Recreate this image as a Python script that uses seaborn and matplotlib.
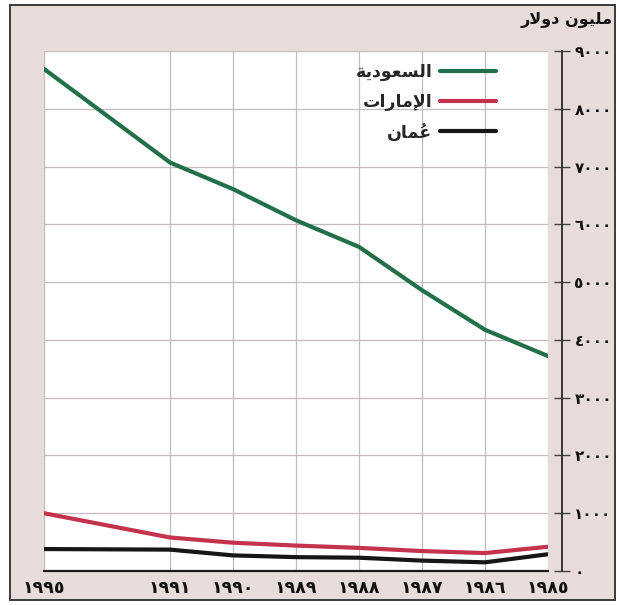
import matplotlib
matplotlib.use("Agg")
import matplotlib.pyplot as plt
import seaborn as sns
import pandas as pd
from matplotlib.patches import Rectangle

# ---------------- data ----------------
years = [1995, 1991, 1990, 1989, 1988, 1987, 1986, 1985]
year_labels = ["١٩٩٥", "١٩٩١", "١٩٩٠", "١٩٨٩", "١٩٨٨", "١٩٨٧", "١٩٨٦", "١٩٨٥"]
saudi = [8690, 7070, 6610, 6070, 5610, 4860, 4175, 3720]
uae = [1000, 580, 490, 440, 400, 345, 310, 420]
oman = [380, 370, 270, 240, 230, 180, 150, 290]
series_names = ["السعودية", "الإمارات", "عُمان"]
y_ticks = [0, 1000, 2000, 3000, 4000, 5000, 6000, 7000, 8000, 9000]
y_tick_labels = ["٠", "١٠٠٠", "٢٠٠٠", "٣٠٠٠", "٤٠٠٠", "٥٠٠٠", "٦٠٠٠", "٧٠٠٠", "٨٠٠٠", "٩٠٠٠"]
unit_label = "مليون دولار"

# slot of each year on the (broken) horizontal axis: 1995 sits two slots left of 1991
year_slot = {1995: 8, 1991: 6, 1990: 5, 1989: 4, 1988: 3, 1987: 2, 1986: 1, 1985: 0}

# ---------------- minimal Arabic shaping (presentation forms) ----------------
FORMS = {
    'ا': ('\uFE8D', '\uFE8E', None, None),
    'إ': ('\uFE87', '\uFE88', None, None),
    'ب': ('\uFE8F', '\uFE90', '\uFE91', '\uFE92'),
    'ت': ('\uFE95', '\uFE96', '\uFE97', '\uFE98'),
    'ة': ('\uFE93', '\uFE94', None, None),
    'د': ('\uFEA9', '\uFEAA', None, None),
    'ر': ('\uFEAD', '\uFEAE', None, None),
    'س': ('\uFEB1', '\uFEB2', '\uFEB3', '\uFEB4'),
    'ع': ('\uFEC9', '\uFECA', '\uFECB', '\uFECC'),
    'ل': ('\uFEDD', '\uFEDE', '\uFEDF', '\uFEE0'),
    'م': ('\uFEE1', '\uFEE2', '\uFEE3', '\uFEE4'),
    'ن': ('\uFEE5', '\uFEE6', '\uFEE7', '\uFEE8'),
    'و': ('\uFEED', '\uFEEE', None, None),
    'ي': ('\uFEF1', '\uFEF2', '\uFEF3', '\uFEF4'),
}
LAM_ALEF = {'ا': ('\uFEFB', '\uFEFC'), 'إ': ('\uFEF9', '\uFEFA')}
MARKS = {'\u064E', '\u064F', '\u0650', '\u0651', '\u0652'}


def shape(s):
    toks = []
    for ch in s:
        if ch in MARKS and toks:
            toks[-1][1] += ch
        else:
            toks.append([ch, ''])
    merged = []
    i = 0
    while i < len(toks):
        b, m = toks[i]
        if b == 'ل' and i + 1 < len(toks) and toks[i + 1][0] in LAM_ALEF:
            merged.append(['LA' + toks[i + 1][0], m + toks[i + 1][1]])
            i += 2
        else:
            merged.append([b, m])
            i += 1

    def joins_next(b):
        if b.startswith('LA'):
            return False
        f = FORMS.get(b)
        return f is not None and f[2] is not None

    def is_letter(b):
        return b.startswith('LA') or b in FORMS

    out = []
    for i, (b, m) in enumerate(merged):
        prev_j = i > 0 and joins_next(merged[i - 1][0]) and is_letter(b)
        next_j = joins_next(b) and i + 1 < len(merged) and is_letter(merged[i + 1][0])
        if b.startswith('LA'):
            g = LAM_ALEF[b[2]][1 if prev_j else 0]
        elif b in FORMS:
            f = FORMS[b]
            if prev_j and next_j:
                g = f[3]
            elif prev_j:
                g = f[1]
            elif next_j:
                g = f[2]
            else:
                g = f[0]
        else:
            g = b
        out.append(m + g)
    return ''.join(reversed(out))


# ---------------- build long table ----------------
rows = []
for name, vals in zip(series_names, [saudi, uae, oman]):
    for y, v in zip(years, vals):
        rows.append({"slot": year_slot[y], "value": v, "country": shape(name)})
df = pd.DataFrame(rows)

sns.set_theme(style="white")
plt.rcParams['font.family'] = ['DejaVu Sans']
plt.rcParams['font.weight'] = 'bold'

BG = "#e7dcd9"
fig = plt.figure(figsize=(6.2, 6.05), dpi=100, facecolor="white")
# scanned page background with frame
fig.patches.append(Rectangle((10 / 620, 5 / 605), 605 / 620, 595 / 605,
                             transform=fig.transFigure, facecolor=BG,
                             edgecolor="#3a3a3a", linewidth=1.4, zorder=-10))

ax = fig.add_axes([44 / 620, 34 / 605, 504 / 620, 520 / 605])
ax.set_zorder(5)
ax.set_facecolor("white")

palette = {shape(series_names[0]): "#22704a",
           shape(series_names[1]): "#c3334e",
           shape(series_names[2]): "#161616"}

sns.lineplot(data=df, x="slot", y="value", hue="country",
             hue_order=[shape(n) for n in series_names],
             palette=palette, linewidth=3.0, ax=ax, legend=True,
             estimator=None, sort=True)

ax.set_xlim(8, 0)
ax.set_ylim(0, 9000)

# grid
grid_c = "#c4bcbc"
ax.set_xticks([year_slot[y] for y in years])
ax.set_xticklabels(year_labels, fontsize=12.5, fontweight='bold')
ax.set_yticks(y_ticks)
ax.set_yticklabels(y_tick_labels, fontsize=11, fontweight='bold')
ax.grid(True, color=grid_c, linewidth=0.9)
ax.set_axisbelow(True)

ax.yaxis.tick_right()
ax.yaxis.set_label_position("right")
for s in ["left", "top"]:
    ax.spines[s].set_visible(False)
ax.spines["right"].set_position(("outward", 10))
ax.spines["right"].set_color("#2a2a2a")
ax.spines["right"].set_linewidth(1.3)
ax.spines["bottom"].set_color("#1a1a1a")
ax.spines["bottom"].set_linewidth(1.6)

ax.tick_params(axis="y", direction="inout", length=12, width=1.0, color="#444444",
               pad=3, labelcolor="#111111")
ax.tick_params(axis="x", direction="out", length=4, width=1.2, color="#222222",
               pad=2, labelcolor="#111111")
ax.set_xlabel("")
ax.set_ylabel("")

handles, labels = ax.get_legend_handles_labels()
ax.legend(handles, labels, loc="upper right", bbox_to_anchor=(0.91, 0.99),
          frameon=False, markerfirst=False, handlelength=3.2, handletextpad=0.45,
          labelspacing=0.7, borderaxespad=0,
          prop={"size": 12.5, "weight": "bold"})

fig.text(613 / 620, 1 - 20 / 605, shape(unit_label), ha="right", va="center",
         fontsize=11.5, fontweight="bold", color="#111111")

fig.savefig("out.png", dpi=100, facecolor=fig.get_facecolor())
